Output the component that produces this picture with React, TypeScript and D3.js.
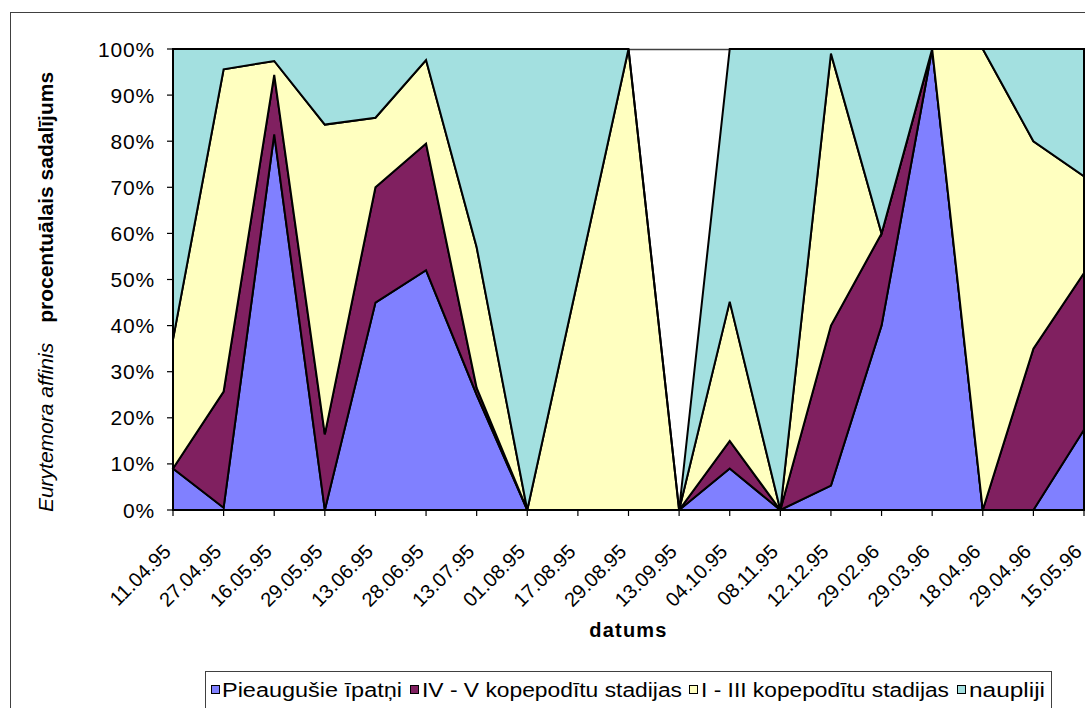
import React from 'react';
import * as d3 from 'd3';

const dates = ['11.04.95','27.04.95','16.05.95','29.05.95','13.06.95','28.06.95','13.07.95','01.08.95','17.08.95','29.08.95','13.09.95','04.10.95','08.11.95','12.12.95','29.02.96','29.03.96','18.04.96','29.04.96','15.05.96'];
const adults =   [9, 0.5, 81.5, 0, 45, 52, 25, 0, 0, 0, 0, 9, 0, 5.3, 40, 100, 0, 0, 17.4];
const stageIVV = [0, 25.2, 12.9, 16.4, 25, 27.5, 1.5, 0, 0, 0, 0, 6, 0, 34.7, 20, 0, 0, 35, 34];
const stageIIII = [28, 69.9, 3, 67.2, 15.1, 18.1, 30.5, 0, 50, 100, 0, 30.2, 0, 59, 0, 0, 100, 45, 21];
const nauplii =  [63, 4.4, 2.6, 16.4, 14.9, 2.4, 43, 100, 50, 0, 0, 54.8, 100, 1, 40, 0, 0, 20, 27.6];
const seriesNames = ['Pieaugušie īpatņi', 'IV - V kopepodītu stadijas', 'I - III kopepodītu stadijas', 'naupliji'];
const yTicks = [0, 10, 20, 30, 40, 50, 60, 70, 80, 90, 100];

const colors = ['#8080FF', '#802060', '#FFFFC0', '#A3E0E0'];
const keys = ['a', 'b', 'c', 'd'];
const FONT = "Arial, 'Liberation Sans', sans-serif";

export default function App() {
  const W = 1085, H = 708;
  const left = 173, right = 1084, top = 49, bottom = 510;
  const x = d3.scalePoint<string>().domain(dates).range([left, right]);
  const y = d3.scaleLinear().domain([0, 100]).range([bottom, top]);
  const rows = dates.map((d, i) => ({ date: d, a: adults[i], b: stageIVV[i], c: stageIIII[i], d: nauplii[i] }));
  const stacked = d3.stack<any>().keys(keys)(rows);
  const area = d3.area<any>()
    .x((p) => x(p.data.date) as number)
    .y0((p) => y(p[0]))
    .y1((p) => y(p[1]));

  const legendItems = [
    { sx: 211, tx: 222, w: 180 },
    { sx: 410, tx: 422, w: 260 },
    { sx: 689, tx: 701, w: 248 },
    { sx: 957, tx: 969, w: 76 },
  ];

  return (
    <svg width={W} height={H} style={{ position: 'absolute', left: 0, top: 0 }} fontFamily={FONT}>
      <rect x={0} y={0} width={W} height={H} fill="#fff" />
      <rect x={10.5} y={12.5} width={1090} height={710} fill="none" stroke="#404040" strokeWidth={1} />
      <line x1={left} x2={right} y1={top + 0.5} y2={top + 0.5} stroke="#404040" strokeWidth={1.5} />
      {stacked.map((s, i) => (
        <path key={i} d={area(s as any) || ''} fill={colors[i]} stroke="#000" strokeWidth={2} strokeLinejoin="miter" />
      ))}
      <line x1={right} x2={right} y1={top} y2={bottom} stroke="#000" strokeWidth={1.5} />
      <line x1={left} x2={left} y1={top} y2={bottom + 0.5} stroke="#000" strokeWidth={1.5} />
      <line x1={left} x2={right + 1} y1={bottom} y2={bottom} stroke="#000" strokeWidth={1.5} />
      {yTicks.map((t) => (
        <g key={t}>
          <line x1={left - 6} x2={left} y1={y(t)} y2={y(t)} stroke="#000" strokeWidth={1.2} />
          <text x={155} y={y(t) + 7.5} textAnchor="end" fontSize={21} fill="#000" letterSpacing={0.8}>{t}%</text>
        </g>
      ))}
      {dates.map((d) => {
        const xx = x(d) as number;
        return (
          <g key={d}>
            <line x1={xx} x2={xx} y1={bottom} y2={bottom + 6} stroke="#000" strokeWidth={1.2} />
            <text transform={`translate(${xx - 1},553) rotate(-45)`} textAnchor="end" fontSize={20} fill="#000">{d}</text>
          </g>
        );
      })}
      <text x={(left + right) / 2} y={637} textAnchor="middle" fontSize={20} fontWeight="bold" letterSpacing={1.2} fill="#000">datums</text>
      <text transform="translate(53,292) rotate(-90)" textAnchor="middle" fontSize={21} fill="#000">
        <tspan fontStyle="italic">Eurytemora affinis</tspan>
        <tspan fontWeight="bold" dx={20}>procentuālais sadalījums</tspan>
      </text>
      <rect x={205.5} y={671.5} width={846} height={40} fill="#fff" stroke="#404040" strokeWidth={1} />
      {legendItems.map((it, i) => (
        <g key={i}>
          <rect x={it.sx + 0.5} y={685.5} width={8} height={8} fill={colors[i]} stroke="#000" strokeWidth={1} />
          <text x={it.tx} y={697} fontSize={20} fill="#000" textLength={it.w} lengthAdjust="spacingAndGlyphs">{seriesNames[i]}</text>
        </g>
      ))}
    </svg>
  );
}
